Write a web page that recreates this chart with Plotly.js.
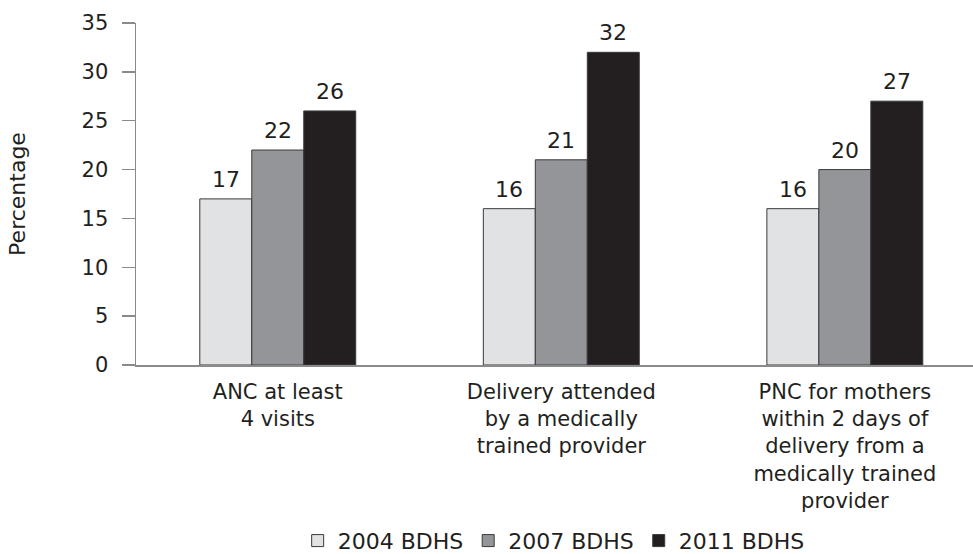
<!DOCTYPE html>
<html>
<head>
<meta charset="utf-8">
<script src="https://cdn.plot.ly/plotly-3.0.1.min.js"></script>
<style>
  html, body { margin: 0; padding: 0; background: #fff; }
  #chart { width: 973px; height: 554px; }
</style>
</head>
<body>
<div id="chart"></div>
<script>
const categories = [
  "ANC at least<br>4 visits",
  "Delivery attended<br>by a medically<br>trained provider",
  "PNC for mothers<br>within 2 days of<br>delivery from a<br>medically trained<br>provider"
];
const seriesNames = ["2004 BDHS", "2007 BDHS", "2011 BDHS"];
const values2004 = [17, 16, 16];
const values2007 = [22, 21, 20];
const values2011 = [26, 32, 27];
const yTicks = [0, 5, 10, 15, 20, 25, 30, 35];

const colors = ["#e1e2e4", "#939598", "#231f20"];
const FONT = "DejaVu Sans, Arial, sans-serif";
const TXT = "#231f20";
const BARGAP = 0.45;

const allValues = [values2004, values2007, values2011];
const traces = allValues.map((vals, i) => ({
  type: "bar",
  name: seriesNames[i],
  x: categories,
  y: vals,
  marker: { color: colors[i], line: { color: "#3a3a3a", width: 1 } },
  hoverinfo: "none"
}));

// value labels above each bar, placed at the bar centres in data units
const nSeries = allValues.length;
const barUnit = (1 - BARGAP) / nSeries;
const annotations = [];
allValues.forEach((vals, i) => {
  vals.forEach((v, j) => {
    annotations.push({
      x: j + (i - (nSeries - 1) / 2) * barUnit,
      y: v,
      xref: "x", yref: "y",
      text: String(v),
      showarrow: false,
      xanchor: "center", yanchor: "bottom",
      yshift: 5,
      font: { family: FONT, size: 22, color: TXT }
    });
  });
});

const layout = {
  width: 973,
  height: 554,
  margin: { l: 136, r: 0, t: 23, b: 189, autoexpand: false },
  paper_bgcolor: "#ffffff",
  plot_bgcolor: "#ffffff",
  font: { family: FONT, color: TXT, size: 21 },
  barmode: "group",
  bargap: BARGAP,
  bargroupgap: 0,
  showlegend: true,
  legend: {
    orientation: "h",
    x: 0.499, xanchor: "center",
    y: -0.514, yanchor: "middle",
    font: { family: FONT, size: 22, color: TXT },
    itemwidth: 30,
    tracegroupgap: 0
  },
  annotations: annotations,
  xaxis: {
    type: "category",
    range: [-0.5, 2.452],
    showline: true,
    linecolor: "#8a8a8a",
    linewidth: 1.5,
    ticks: "",
    ticklabelstandoff: 7,
    showgrid: false,
    zeroline: false,
    tickfont: { family: FONT, size: 21, color: TXT },
    fixedrange: true
  },
  yaxis: {
    range: [0, 35],
    tickvals: yTicks,
    ticktext: yTicks.map(String),
    showline: true,
    linecolor: "#8a8a8a",
    linewidth: 1.5,
    ticks: "outside",
    ticklen: 13,
    tickwidth: 1.5,
    tickcolor: "#8a8a8a",
    ticklabelstandoff: 9,
    showgrid: false,
    zeroline: false,
    tickfont: { family: FONT, size: 21, color: TXT },
    title: { text: "Percentage", font: { family: FONT, size: 22, color: TXT }, standoff: 50 },
    fixedrange: true
  }
};

Plotly.newPlot("chart", traces, layout, { displayModeBar: false, staticPlot: true });
</script>
</body>
</html>
